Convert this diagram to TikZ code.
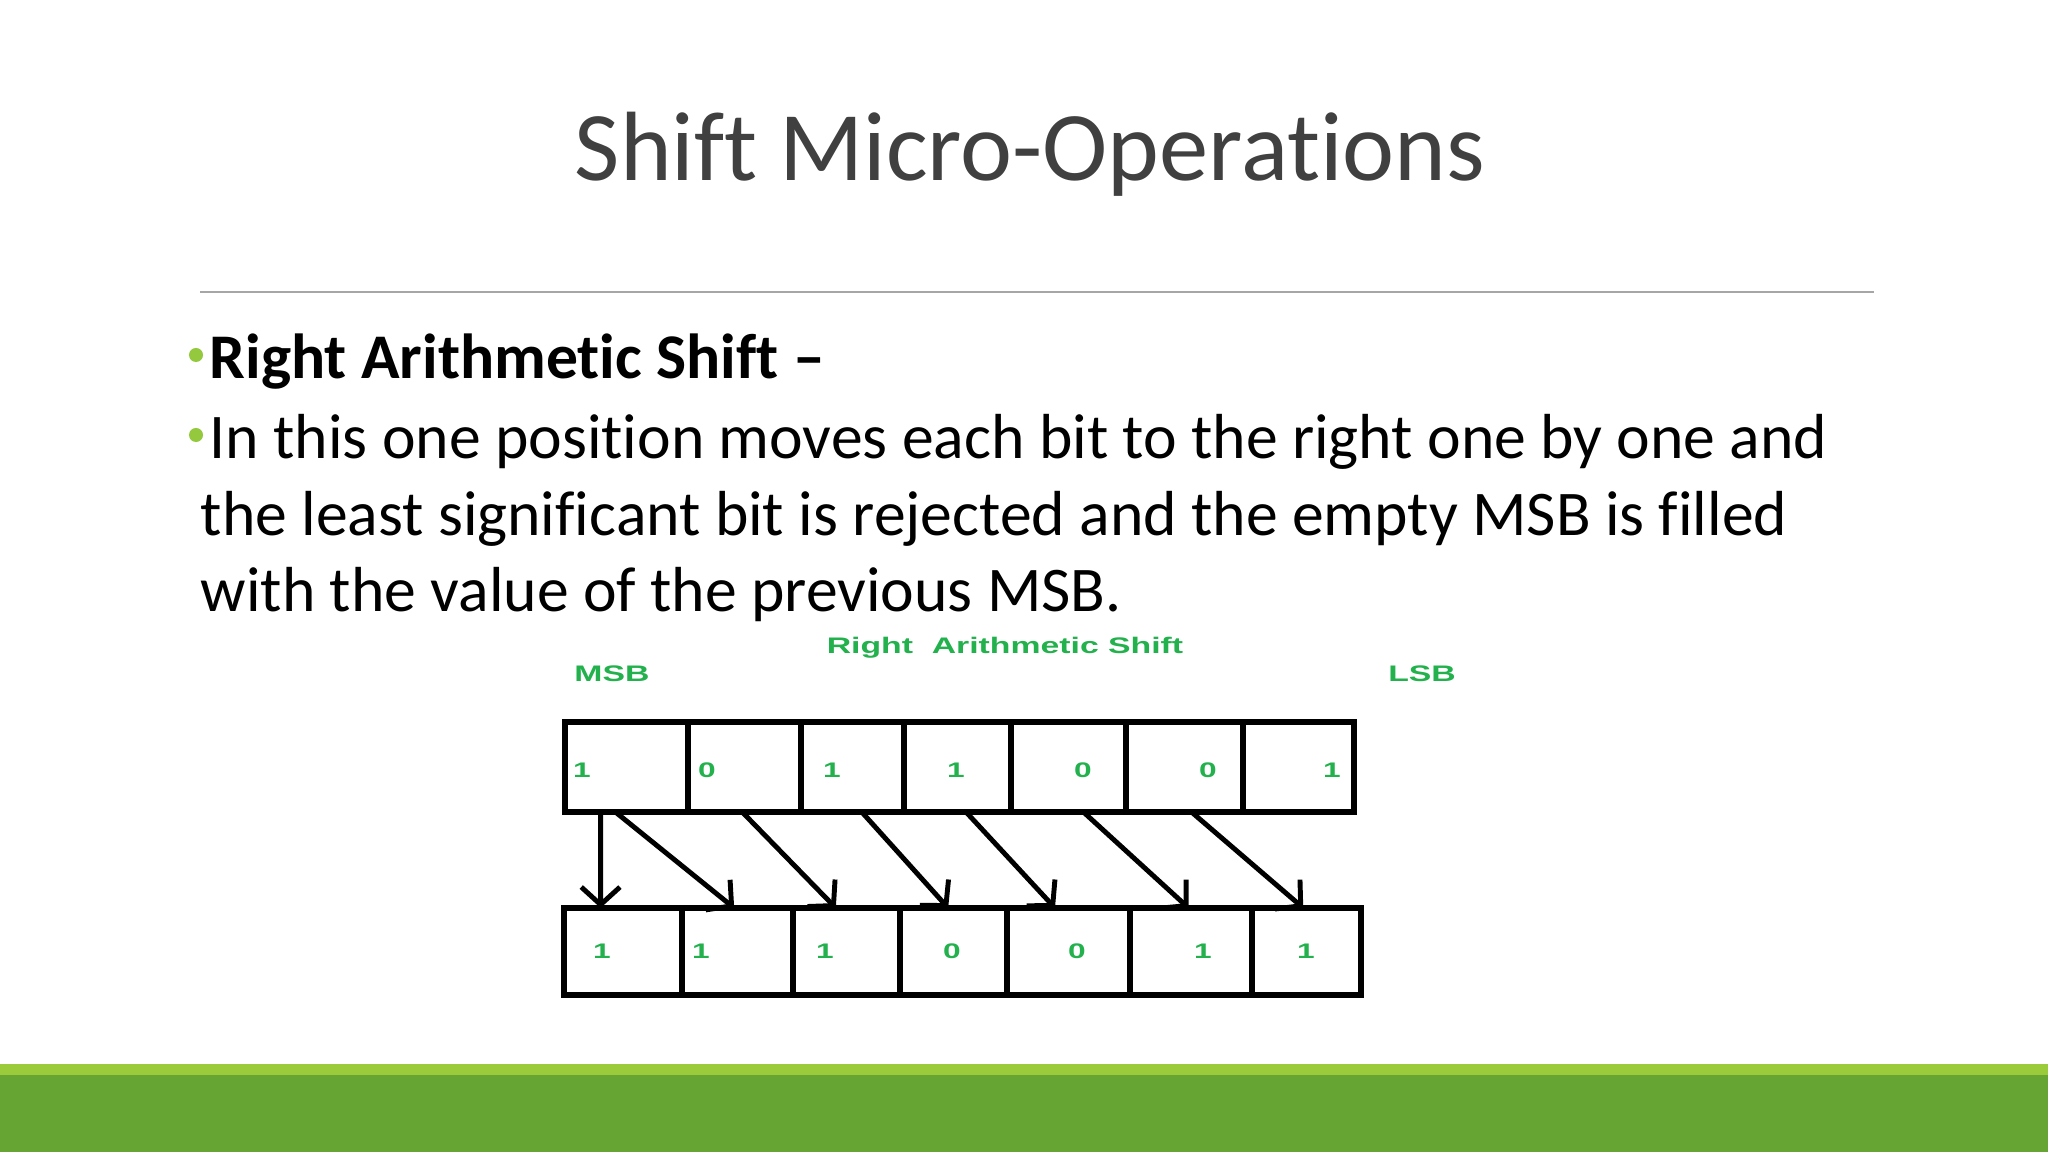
\documentclass[tikz,border=0pt]{standalone}
\usepackage{fontspec}
\usepackage{graphicx}
\setmainfont{Carlito}[Ligatures=CommonOff]
\newfontfamily\paintfont{Liberation Sans}
\usepackage{tikz}
\usetikzlibrary{arrows.meta}
\usetikzlibrary{calc}

\definecolor{titlegray}{HTML}{404040}
\definecolor{rulegray}{HTML}{A6A6A6}
\definecolor{bulletgreen}{HTML}{94C83D}
\definecolor{barlight}{HTML}{9BCB3B}
\definecolor{bardark}{HTML}{66A434}
\definecolor{paintgreen}{HTML}{22B14C}

\newcommand{\wide}[1]{\scalebox{1.5}[1]{#1}}

\tikzset{
  bitcell/.style={draw, line width=1.55pt, inner sep=0pt, outer sep=0pt, minimum height=0.9cm},
  bit/.style={inner sep=0pt, text=paintgreen, font=\paintfont\bfseries\fontsize{6}{7}\selectfont},
  greenlabel/.style={inner sep=0pt, text=paintgreen, font=\paintfont\bfseries\fontsize{6.4}{7}\selectfont},
  shiftarrow/.style={line width=1.4pt, -{Straight Barb[length=5pt, width=11pt, line width=1.4pt]}},
  bodyline/.style={inner sep=0pt, anchor=base west, font=\fontsize{18.1}{22}\selectfont},
  bulletdot/.style={circle, fill=bulletgreen, inner sep=0pt, minimum size=0.14cm}
}

\begin{document}
\begin{tikzpicture}[x=0.01cm, y=-0.01cm]
\useasboundingbox (0,0) rectangle (2048,1152);

% title and rule
\node[inner sep=0pt, anchor=base, text=titlegray, font=\fontsize{28}{32}\selectfont] (title) at (1030,181) {Shift Micro-Operations};
\draw[rulegray, line width=0.6pt] (200,292) -- (1874,292);

% bullets
\node[bulletdot] (dot1) at (196,355) {};
\node[bodyline, font=\bfseries\fontsize{18.1}{22}\selectfont] (head) at (209,379) {Right Arithmetic Shift --};
\node[bulletdot] (dot2) at (196,435) {};
\node[bodyline] (line1) at (209,459) {In this one position moves each bit to the right one by one and};
\node[bodyline] (line2) at (200,535) {the least significant bit is rejected and the empty MSB is filled};
\node[bodyline] (line3) at (200,611) {with the value of the previous MSB.};

% labels
\node[greenlabel] (caption) at (1005,648) {\wide{Right\ \ Arithmetic Shift}};
\node[greenlabel] (msb) at (612,674) {\wide{MSB}};
\node[greenlabel] (lsb) at (1422,674) {\wide{LSB}};

% register before the shift
\foreach \i/\l/\r/\d/\v in {1/565/688/582/1, 2/688/801/707/0, 3/801/904/832/1, 4/904/1011/956/1, 5/1011/1126/1083/0, 6/1126/1243/1208/0, 7/1243/1354/1332/1}
{
  \node[bitcell, minimum width={(\r-\l)*0.01cm}] (t\i) at ({(\l+\r)/2},767) {};
  \node[bit] (tv\i) at (\d,770) {\wide{\v}};
}

% register after the shift
\foreach \i/\l/\r/\d/\v in {1/564/682/602/1, 2/682/793/701/1, 3/793/900/825/1, 4/900/1007/952/0, 5/1007/1130/1077/0, 6/1130/1252/1203/1, 7/1252/1361/1306/1}
{
  \node[bitcell, minimum width={(\r-\l)*0.01cm}, minimum height=0.87cm] (b\i) at ({(\l+\r)/2},951.5) {};
  \node[bit] (bv\i) at (\d,951) {\wide{\v}};
}

% shift arrows
\foreach \s/\sf/\e/\ef in {1/.29/1/.31, 1/.41/2/.47, 2/.48/3/.40, 3/.59/4/.45, 4/.58/5/.39, 5/.63/6/.48, 6/.56/7/.47}
  \draw[shiftarrow] ($(t\s.south west)!\sf!(t\s.south east)$) -- ($(b\e.north west)!\ef!(b\e.north east)$);

% footer bars
\fill[barlight] (0,1064) rectangle (2048,1075);
\fill[bardark] (0,1075) rectangle (2048,1152);
\end{tikzpicture}
\end{document}
